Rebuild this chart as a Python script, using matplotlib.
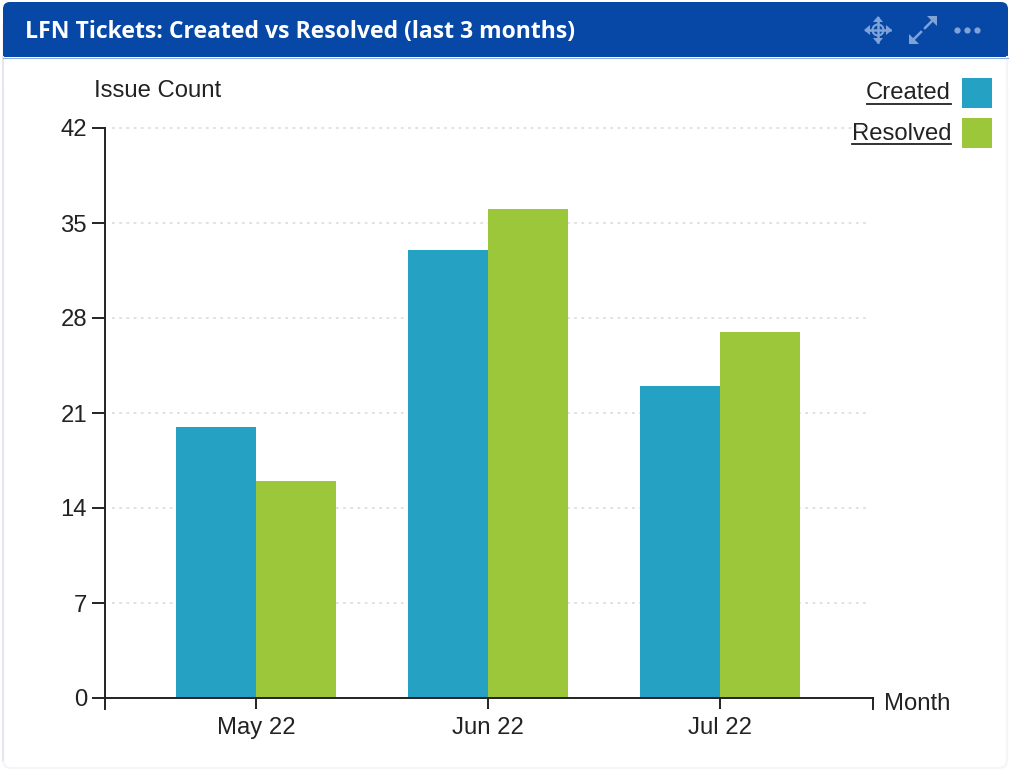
import matplotlib
matplotlib.use('Agg')
import matplotlib.pyplot as plt
from matplotlib.patches import FancyBboxPatch, Rectangle, Polygon
import numpy as np

months = ['May 22', 'Jun 22', 'Jul 22']
created = [20, 33, 23]
resolved = [16, 36, 27]
y_ticks = [0, 7, 14, 21, 28, 35, 42]

blue = '#24A1C3'
green = '#9DC73B'
header = '#0747A6'
icon = '#7FA3D6'
ink = '#222222'
edge = '#E6E6EE'
edge_faint = '#F5F5F8'

plt.rcParams['font.family'] = ['Liberation Sans', 'DejaVu Sans']

W, H = 1010, 770
fig = plt.figure(figsize=(W / 100, H / 100), dpi=100)
fig.patch.set_facecolor('white')

# overlay in pixel coords for the card, header and legend
bg = fig.add_axes([0, 0, 1, 1], zorder=0)
bg.set_xlim(0, W)
bg.set_ylim(H, 0)
bg.axis('off')

bg.add_patch(FancyBboxPatch((3, 20), 1004, 748, boxstyle='round,pad=0,rounding_size=8',
                            fc='white', ec=edge_faint, lw=1.5))
bg.add_patch(FancyBboxPatch((3, 2), 1005, 70, boxstyle='round,pad=0,rounding_size=7',
                            fc=header, ec='none'))
bg.add_patch(Rectangle((2, 57), 1007, 30, fc='white', ec='none'))
bg.plot([3, 3], [57, 760], color=edge, lw=1.5)
bg.plot([1007, 1007], [57, 760], color=edge_faint, lw=1.5)
bg.plot([3, 1008], [57.5, 57.5], color='#8FB0DC', lw=0.8)

bg.text(25, 32, 'LFN Tickets: Created vs Resolved (last 3 months)', color='white',
        fontsize=16.6, fontweight='bold', family=['Open Sans', 'DejaVu Sans'],
        va='center', ha='left')

# move icon
cx, cy = 878, 30
bg.plot([cx - 12, cx + 12], [cy, cy], color=icon, lw=1.8)
bg.plot([cx, cx], [cy - 12, cy + 12], color=icon, lw=1.8)
for dx, dy in [(1, 0), (-1, 0), (0, 1), (0, -1)]:
    tip = np.array([cx + dx * 14, cy + dy * 14])
    side = np.array([dy, dx]) * 5
    base = tip - np.array([dx, dy]) * 6
    bg.add_patch(Polygon([tip, base + side, base - side], fc=icon, ec='none'))
bg.add_patch(plt.Circle((cx, cy), 5.5, fc='none', ec=icon, lw=1.5))

# expand icon
bg.plot([911, 921], [42, 32], color=icon, lw=1.8)
bg.plot([925, 935], [28, 18], color=icon, lw=1.8)
bg.add_patch(Polygon([(909, 44), (909, 34), (919, 44)], fc=icon, ec='none'))
bg.add_patch(Polygon([(937, 16), (937, 26), (927, 16)], fc=icon, ec='none'))

# dots
bg.plot([957, 967, 977], [30, 30, 30], ls='none', marker='o', ms=4.5, mew=0, color=icon)

# legend
legend_rows = [('Created', blue, 92.5), ('Resolved', green, 133)]
for name, col, yc in legend_rows:
    bg.add_patch(Rectangle((962, yc - 15), 30, 30, fc=col, ec='none'))
    bg.text(951, yc + 0.5, name, color=ink, fontsize=17.2, ha='right', va='center')
bg.plot([867, 951], [103.5, 103.5], color=ink, lw=1.3)
bg.plot([852, 951], [144, 144], color=ink, lw=1.3)

# chart
ax = fig.add_axes([105 / W, 1 - 698 / H, (873 - 105) / W, (698 - 128) / H], zorder=1)
ax.patch.set_alpha(0)
x = np.arange(len(months))
bw = 80 / 232
ax.hlines(y_ticks[1:], (112 - 256) / 232, (868 - 256) / 232, color='#DEDEDE',
          ls=(0, (1.5, 2.5)), lw=1.3, zorder=1, clip_on=False)
ax.bar(x - bw / 2, created, bw, color=blue, zorder=2, label='Created')
ax.bar(x + bw / 2, resolved, bw, color=green, zorder=2, label='Resolved')

ax.set_xlim(-151 / 232, 2 + 153 / 232)
ax.set_ylim(0, 42)
ax.set_yticks(y_ticks)
ax.set_xticks(x)
ax.set_xticklabels(months)
ax.tick_params(axis='y', length=9.4, width=1.4, color=ink, labelcolor=ink, labelsize=17.2, pad=3.5)
ax.tick_params(axis='x', length=8, width=1.4, color=ink, labelcolor=ink, labelsize=17.2, pad=6)
for s in ['top', 'right']:
    ax.spines[s].set_visible(False)
for s in ['left', 'bottom']:
    ax.spines[s].set_linewidth(1.4)
    ax.spines[s].set_color(ink)
    ax.spines[s].set_zorder(3)

# the axis end caps and titles
bg.plot([105, 105], [698, 709], color=ink, lw=1.4, zorder=5)
bg.plot([873, 873], [698, 709], color=ink, lw=1.4, zorder=5)
bg.text(94, 91, 'Issue Count', color=ink, fontsize=17.2, ha='left', va='center')
bg.text(884, 703.5, 'Month', color=ink, fontsize=17.2, ha='left', va='center')

plt.savefig('out.png', dpi=100)
